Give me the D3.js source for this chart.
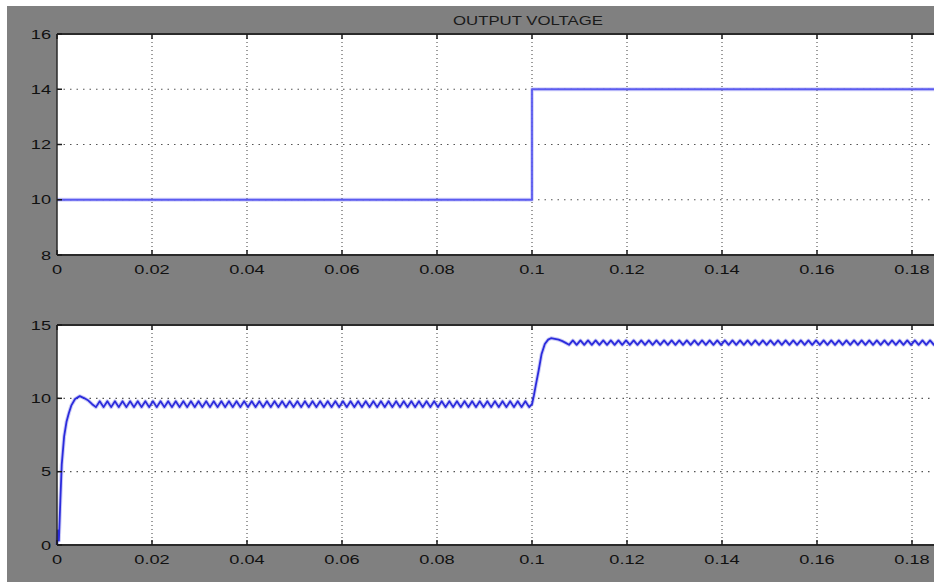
<!DOCTYPE html>
<html>
<head>
<meta charset="utf-8">
<script src="https://cdn.jsdelivr.net/npm/d3@7"></script>
<style>
  html, body { margin: 0; padding: 0; background: #ffffff; }
  svg { display: block; }
  text { font-family: Arial, "Liberation Sans", sans-serif; }
</style>
</head>
<body>
<div id="chart"></div>
<script>
// ---------- DATA ----------
const titleText = "OUTPUT VOLTAGE";
const xTicks = [0, 0.02, 0.04, 0.06, 0.08, 0.1, 0.12, 0.14, 0.16, 0.18];
const xTickLabels = ["0", "0.02", "0.04", "0.06", "0.08", "0.1", "0.12", "0.14", "0.16", "0.18"];
const topYTicks = [8, 10, 12, 14, 16];
const bottomYTicks = [0, 5, 10, 15];

// Reference (top panel)
const refTime  = [0, 0.1, 0.1, 0.2];
const refValue = [10, 10, 14, 14];

const startupTime  = [0, 0.0002, 0.0004, 0.0007, 0.001, 0.0015, 0.002, 0.0025, 0.003, 0.0038, 0.0048, 0.0058, 0.0066, 0.0074];
const startupValue = [0, 1.0, 0.3, 3.0, 5.5, 7.4, 8.4, 9.0, 9.5, 9.95, 10.15, 10.0, 9.85, 9.6];
const stepTime  = [0.1, 0.1004, 0.1008, 0.1014, 0.102, 0.1027, 0.1034, 0.104, 0.1048, 0.1056, 0.1064, 0.107];
const stepValue = [9.6, 10.2, 10.9, 11.9, 13.0, 13.7, 14.0, 14.1, 14.05, 14.0, 13.9, 13.8];
// Steady-state ripple bands
const rippleStart  = [0.0074, 0.107];
const rippleEnd    = [0.1, 0.2];
const rippleHigh   = [9.8, 13.95];
const rippleLow    = [9.4, 13.65];
const ripplePeriod = 0.0016;

// ---------- LAYOUT ----------
const W = 934, H = 582;
const left = 57, xEnd = 0.2;
const pxPerUnit = 4750;
const topPanel = { top: 34, bottom: 255, domain: [8, 16] };
const botPanel = { top: 325, bottom: 545, domain: [0, 15] };
const grey = "#808080";
const textScale = 1.4;

const svg = d3.select("#chart").append("svg").attr("width", W).attr("height", H);
svg.append("rect").attr("x", 0).attr("y", 0).attr("width", W).attr("height", H).attr("fill", "#ffffff");
svg.append("rect").attr("x", 7).attr("y", 6).attr("width", W - 7).attr("height", H - 6).attr("fill", grey);

const x = d3.scaleLinear().domain([0, xEnd]).range([left, left + xEnd * pxPerUnit]);

function buildMeasured() {
  const pts = [];
  startupTime.forEach((t, i) => pts.push([t, startupValue[i]]));
  const addRipple = (k) => {
    let hi = false;
    for (let t = rippleStart[k] + ripplePeriod / 2; t < rippleEnd[k]; t += ripplePeriod / 2) {
      pts.push([t, hi ? rippleHigh[k] : rippleLow[k]]);
      hi = !hi;
    }
  };
  addRipple(0);
  stepTime.forEach((t, i) => pts.push([t, stepValue[i]]));
  addRipple(1);
  return pts;
}

function drawPanel(p, yTicks, series, lineColor, lineWidth) {
  const y = d3.scaleLinear().domain(p.domain).range([p.bottom, p.top]);
  const g = svg.append("g");
  const plotW = x.range()[1] - left;
  g.append("rect").attr("x", left).attr("y", p.top).attr("width", plotW)
    .attr("height", p.bottom - p.top).attr("fill", "#ffffff");

  // grid
  g.selectAll(".vg").data(xTicks.slice(1)).enter().append("line")
    .attr("x1", d => x(d)).attr("x2", d => x(d))
    .attr("y1", p.top).attr("y2", p.bottom)
    .attr("stroke", "#3a3a3a").attr("stroke-width", 1).attr("stroke-dasharray", "1,3");
  g.selectAll(".hg").data(yTicks.slice(1, -1)).enter().append("line")
    .attr("x1", left).attr("x2", x.range()[1])
    .attr("y1", d => y(d)).attr("y2", d => y(d))
    .attr("stroke", "#555").attr("stroke-width", 1.2).attr("stroke-dasharray", "1.5,5");

  // series
  const line = d3.line().x(d => x(d[0])).y(d => y(d[1]));
  g.append("path").datum(series).attr("d", line).attr("fill", "none")
    .attr("stroke", lineColor).attr("stroke-opacity", 0.25).attr("stroke-width", lineWidth + 2)
    .attr("stroke-linejoin", "round");
  g.append("path").datum(series).attr("d", line).attr("fill", "none")
    .attr("stroke", lineColor).attr("stroke-width", lineWidth).attr("stroke-linejoin", "round");

  // frame
  g.append("line").attr("x1", left).attr("x2", W).attr("y1", p.top).attr("y2", p.top)
    .attr("stroke", "#2a2a2a").attr("stroke-width", 2);
  g.append("line").attr("x1", left).attr("x2", W).attr("y1", p.bottom).attr("y2", p.bottom)
    .attr("stroke", "#2a2a2a").attr("stroke-width", 2);
  g.append("line").attr("x1", left).attr("x2", left).attr("y1", p.top).attr("y2", p.bottom)
    .attr("stroke", "#2a2a2a").attr("stroke-width", 1.5);

  // ticks
  xTicks.forEach(t => {
    g.append("line").attr("x1", x(t)).attr("x2", x(t)).attr("y1", p.top).attr("y2", p.top + 5)
      .attr("stroke", "#1a1a1a").attr("stroke-width", 1.5);
    g.append("line").attr("x1", x(t)).attr("x2", x(t)).attr("y1", p.bottom).attr("y2", p.bottom - 5)
      .attr("stroke", "#1a1a1a").attr("stroke-width", 1.5);
  });
  yTicks.forEach(v => {
    g.append("line").attr("x1", left).attr("x2", left + 5).attr("y1", y(v)).attr("y2", y(v))
      .attr("stroke", "#1a1a1a").attr("stroke-width", 1.5);
  });

  // labels
  xTicks.forEach((t, i) => {
    g.append("text").attr("transform", `translate(${x(t)},${p.bottom + 14}) scale(${textScale},1)`)
      .attr("text-anchor", "middle").attr("dy", "0.35em")
      .attr("font-size", 13).attr("fill", "#111").text(xTickLabels[i]);
  });
  yTicks.forEach(v => {
    g.append("text").attr("transform", `translate(51,${y(v)}) scale(${textScale},1)`)
      .attr("text-anchor", "end").attr("dy", "0.35em")
      .attr("font-size", 13).attr("fill", "#111").text(String(v));
  });
}

const refSeries = refTime.map((t, i) => [t, refValue[i]]);
drawPanel(topPanel, topYTicks, refSeries, "#5b5bf0", 1.8);
drawPanel(botPanel, bottomYTicks, buildMeasured(), "#2b2bdc", 1.8);

svg.append("text").attr("transform", `translate(${x(0.1) - 4},21) scale(${textScale},1)`)
  .attr("text-anchor", "middle").attr("dy", "0.35em")
  .attr("font-size", 12).attr("fill", "#1a1a1a").text(titleText);
</script>
</body>
</html>
